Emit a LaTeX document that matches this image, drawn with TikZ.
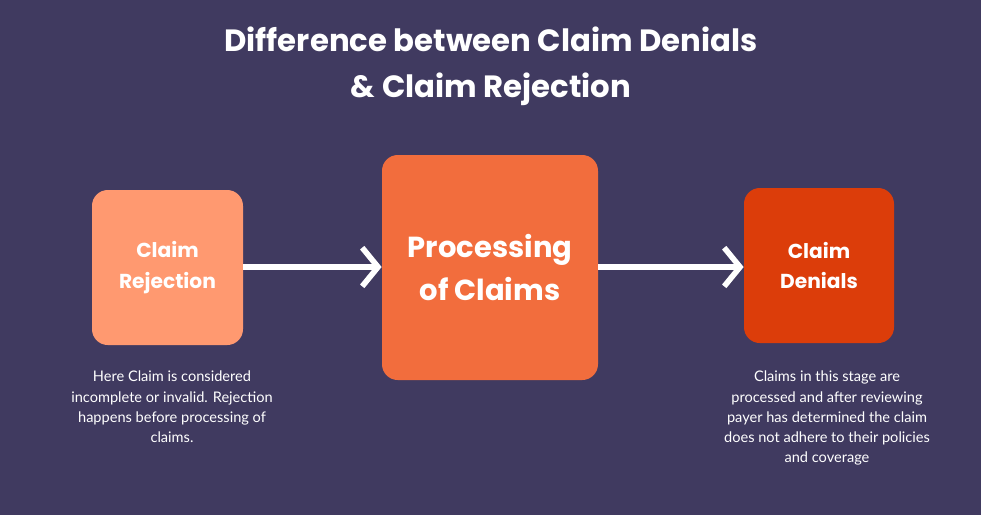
\documentclass[tikz,border=0pt]{standalone}
\usepackage{fontspec}
\setmainfont{Poppins}
\newfontfamily\lato{Lato}
\usetikzlibrary{arrows.meta,calc}
\definecolor{bgpurple}{HTML}{403A60}
\definecolor{lightorange}{HTML}{FF9970}
\definecolor{midorange}{HTML}{F26D3D}
\definecolor{darkorange}{HTML}{DC3D0A}
\begin{document}
\begin{tikzpicture}[x=0.02cm,y=-0.02cm,
box/.style ={rectangle, rounded corners=9pt, text=white, align=center, font=\bfseries},
note/.style ={text=white, align=center, font=\lato\fontsize{8.3}{11.5}\selectfont},
flow/.style ={line width=3.2pt, white, -{Straight Barb[length=9pt,width=22pt,line width=3.2pt]}}
]
\fill[bgpurple] (0,0) rectangle (981,515);
\node[text=white, align=center, font=\bfseries\fontsize{17.5}{26}\selectfont] (T) at (491,66) {Difference between Claim Denials\\\& Claim Rejection};
\node[box, fill=lightorange, minimum width=151*0.02cm, minimum height=155*0.02cm, font=\bfseries\fontsize{11.5}{17.5}\selectfont] (R) at (167.5,267.5) {Claim\\Rejection};
\node[box, fill=midorange, minimum width=216*0.02cm, minimum height=225*0.02cm, font=\bfseries\fontsize{16.5}{24}\selectfont] (P) at (490,267.5) {Processing\\of Claims};
\node[box, fill=darkorange, minimum width=150*0.02cm, minimum height=155*0.02cm, font=\bfseries\fontsize{11.5}{17.5}\selectfont] (D) at (819,265.5) {Claim\\Denials};
\draw[flow] (R.east |- 0,267) -- (P.west |- 0,267);
\draw[flow] (P.east |- 0,267) -- (D.west |- 0,267);
\node[note, anchor=north] (RN) at (172,365) {Here Claim is considered\\incomplete or invalid. Rejection\\happens before processing of\\claims.};
\node[note, anchor=north] (DN) at (827,365) {Claims in this stage are\\processed and after reviewing\\payer has determined the claim\\does not adhere to their policies\\and coverage};
\end{tikzpicture}
\end{document}
